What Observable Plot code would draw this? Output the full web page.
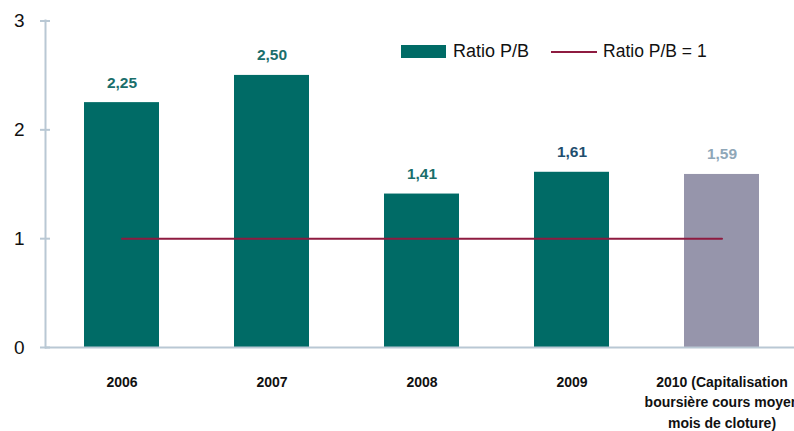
<!DOCTYPE html>
<html>
<head>
<meta charset="utf-8">
<script src="https://cdn.jsdelivr.net/npm/d3@7"></script>
<script src="https://cdn.jsdelivr.net/npm/@observablehq/plot@0.6"></script>
<style>
  html, body { margin: 0; padding: 0; background: #fff; }
  #wrap { position: relative; width: 794px; height: 431px; overflow: hidden; }
  #legend { position: absolute; left: 401px; top: 41px; font-family: "Liberation Sans", Arial, sans-serif; font-size: 18px; color: #111; display: flex; align-items: center; }
  .sw { display: inline-block; }
</style>
</head>
<body>
<div id="wrap">
  <div id="chart"></div>
  <div id="legend">
    <span class="sw" style="width:45px;height:13px;background:#006B66;margin-right:7px"></span>
    <span style="margin-right:22px">Ratio P/B</span>
    <span class="sw" style="width:46px;height:2px;background:#8E1B40;margin-right:6px"></span>
    <span style="font-size:17.5px">Ratio P/B = 1</span>
  </div>
</div>
<script>
const categories = ["2006", "2007", "2008", "2009", "2010 (Capitalisation\nboursière cours moyen\nmois de cloture)"];
const values = [2.25, 2.50, 1.41, 1.61, 1.59];
const referenceLevel = [1, 1, 1, 1, 1];
const yTicks = [0, 1, 2, 3];

const barColors = ["#006B66", "#006B66", "#006B66", "#006B66", "#9695AB"];
const labelColors = ["#1A6E6B", "#1A6E6B", "#1A6E6B", "#1F4E6E", "#8FA7B8"];

const bars = categories.map((c, i) => ({cat: c, value: values[i], i}));
const refLine = categories.map((c, i) => ({cat: c, value: referenceLevel[i]}));
const axisColor = "#B9C8D4";

const chart = Plot.plot({
  width: 794,
  height: 431,
  marginTop: 20,
  marginBottom: 84,
  marginLeft: 45,
  marginRight: 0,
  style: {background: "#fff", overflow: "visible"},
  x: {domain: categories, range: [45.5, 796.5], paddingInner: 0.5, paddingOuter: 0.25, align: 0.5},
  y: {domain: [0, 3], range: [347, 20.5]},
  marks: [
    Plot.barY(bars, {x: "cat", y: "value", fill: d => barColors[d.i]}),
    Plot.line(refLine, {x: "cat", y: "value", stroke: "#8E1B40", strokeWidth: 2}),
    Plot.text(bars, {x: "cat", y: "value", text: d => d.value.toFixed(2).replace(".", ","),
      fill: d => labelColors[d.i], dy: -20, fontSize: 15.5, fontWeight: "bold",
      fontFamily: "Liberation Sans, Arial, sans-serif"}),
    Plot.frame({anchor: "left", stroke: axisColor, strokeWidth: 2}),
    Plot.ruleY([0], {stroke: axisColor, strokeWidth: 2}),
    Plot.axisY({ticks: yTicks, tickFormat: d => String(d), tickSize: 10, dx: 5, tickPadding: 16,
      stroke: axisColor, strokeWidth: 2, fill: "#111", fontSize: 19,
      fontFamily: "Liberation Sans, Arial, sans-serif", label: null}),
    Plot.axisX({tickSize: 0, tickPadding: 25, lineHeight: 1.45, fontSize: 14, fontWeight: "bold",
      fill: "#111", fontFamily: "Liberation Sans Narrow, Arial Narrow, Liberation Sans, sans-serif", label: null})
  ]
});
document.getElementById("chart").appendChild(chart);
</script>
</body>
</html>
